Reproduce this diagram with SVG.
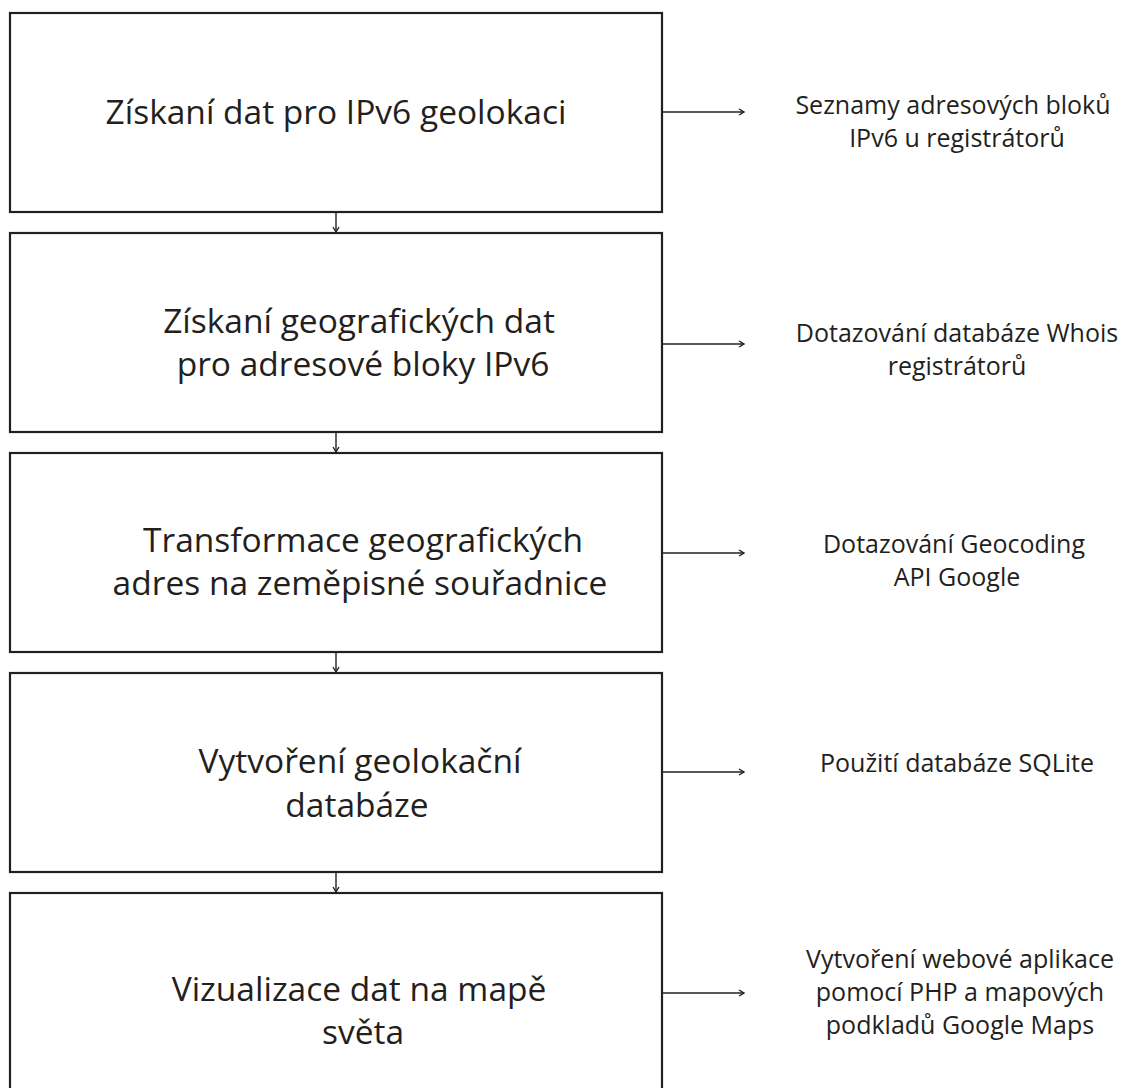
<svg xmlns="http://www.w3.org/2000/svg" width="1126" height="1088" viewBox="0 0 1126 1088">
<defs>
<marker id="ah" markerUnits="userSpaceOnUse" markerWidth="10" markerHeight="10" refX="6" refY="4" orient="auto">
<path d="M1,1 L6,4 L1,7" fill="none" stroke="#231f20" stroke-width="1.4"/>
</marker>
<style>
.box{fill:#fff;stroke:#231f20;stroke-width:2.2}
.main{font-family:"Open Sans","Noto Sans","DejaVu Sans",sans-serif;font-size:33.5px;fill:#231f20;text-anchor:middle}
.side{font-family:"Open Sans","Noto Sans","DejaVu Sans",sans-serif;font-size:25px;fill:#231f20;text-anchor:middle}
.con{fill:none;stroke:#231f20;stroke-width:1.4;marker-end:url(#ah)}
</style>
</defs>
<rect width="1126" height="1088" fill="#fff"/>
<g id="n1">
<rect class="box" x="10" y="13" width="652" height="199"/>
<text class="main" x="336" y="124">Získaní dat pro IPv6 geolokaci</text>
</g>
<g id="n2">
<rect class="box" x="10" y="233" width="652" height="199"/>
<text class="main"><tspan x="359" y="333">Získaní geografických dat</tspan><tspan x="363" y="376">pro adresové bloky IPv6</tspan></text>
</g>
<g id="n3">
<rect class="box" x="10" y="453" width="652" height="199"/>
<text class="main"><tspan x="363" y="552">Transformace geografických</tspan><tspan x="360" y="595">adres na zeměpisné souřadnice</tspan></text>
</g>
<g id="n4">
<rect class="box" x="10" y="673" width="652" height="199"/>
<text class="main"><tspan x="360" y="773">Vytvoření geolokační</tspan><tspan x="357" y="817">databáze</tspan></text>
</g>
<g id="n5">
<rect class="box" x="10" y="893" width="652" height="200"/>
<text class="main"><tspan x="359" y="1001">Vizualizace dat na mapě</tspan><tspan x="363" y="1044">světa</tspan></text>
</g>
<g id="s1">
<text class="side"><tspan x="953" y="114">Seznamy adresových bloků</tspan><tspan x="957" y="147">IPv6 u registrátorů</tspan></text>
</g>
<g id="s2">
<text class="side"><tspan x="957" y="342">Dotazování databáze Whois</tspan><tspan x="957" y="375">registrátorů</tspan></text>
</g>
<g id="s3">
<text class="side"><tspan x="954" y="553">Dotazování Geocoding</tspan><tspan x="957" y="586">API Google</tspan></text>
</g>
<g id="s4">
<text class="side" x="957" y="772">Použití databáze SQLite</text>
</g>
<g id="s5">
<text class="side"><tspan x="960" y="968">Vytvoření webové aplikace</tspan><tspan x="960" y="1001">pomocí PHP a mapových</tspan><tspan x="960" y="1034">podkladů Google Maps</tspan></text>
</g>
<g id="connectors">
<path class="con" d="M336,213 V232"/>
<path class="con" d="M336,433 V452"/>
<path class="con" d="M336,653 V672"/>
<path class="con" d="M336,873 V892"/>
<path class="con" d="M663,112 H744"/>
<path class="con" d="M663,344 H744"/>
<path class="con" d="M663,553 H744"/>
<path class="con" d="M663,772 H744"/>
<path class="con" d="M663,993 H744"/>
</g>
</svg>
